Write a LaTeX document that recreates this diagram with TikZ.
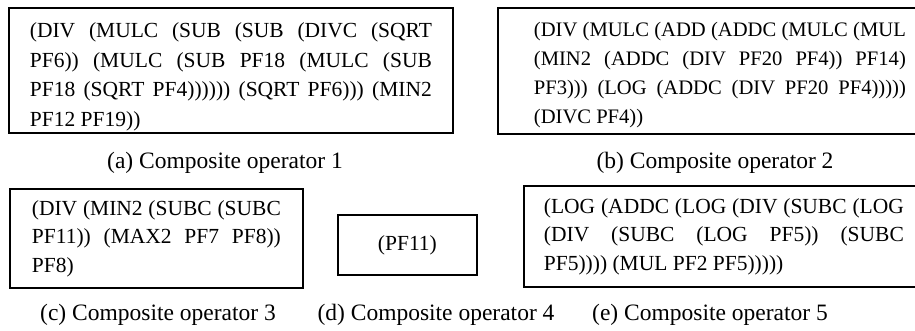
\documentclass[tikz,border=0pt]{standalone}
\usepackage{fontspec}
\setmainfont{Liberation Serif}
\usetikzlibrary{positioning}

\begin{document}
\begin{tikzpicture}[x=1pt, y=-1pt,
  opbox/.style={draw, line width=1.8pt, anchor=north west, align=justify,
    inner ysep=0pt, font=\fontsize{21.5}{28.5}\selectfont,
    execute at begin node=\setlength{\parindent}{0pt}},
  opcap/.style={font=\fontsize{23.5}{28}\selectfont}]
\useasboundingbox (0,0) rectangle (915,331);
%
\node[opbox, text width=402pt, inner xsep=21pt, minimum height=125pt,
  font=\fontsize{21.5}{29.5}\selectfont] (op1) at (8,7)
  {\rule{0pt}{28pt}(DIV (MULC (SUB (SUB (DIVC (SQRT\linebreak
   PF6)) (MULC (SUB PF18 (MULC (SUB\linebreak
   PF18 (SQRT PF4)))))) (SQRT PF6))) (MIN2\linebreak
   PF12 PF19))};
\node[opbox, text width=372pt, inner xsep=36pt, minimum height=126pt,
  font=\fontsize{20.6}{29}\selectfont] (op2) at (497,7)
  {\rule{0pt}{22pt}(DIV (MULC (ADD (ADDC (MULC (MUL\linebreak
   (MIN2 (ADDC (DIV PF20 PF4)) PF14)\linebreak
   PF3))) (LOG (ADDC (DIV PF20 PF4)))))\linebreak
   (DIVC PF4))};
\node[opbox, text width=249pt, inner xsep=22pt, minimum height=99pt] (op3) at (9,188)
  {(DIV (MIN2 (SUBC (SUBC\linebreak
   PF11)) (MAX2 PF7 PF8))\linebreak
   PF8)};
\node[opbox, align=center, minimum width=139pt, minimum height=60pt] (op4) at (337,214)
  {(PF11)};
\node[opbox, text width=360pt, inner xsep=20pt, minimum height=101pt] (op5) at (523,185)
  {(LOG (ADDC (LOG (DIV (SUBC (LOG\linebreak
   (DIV (SUBC (LOG PF5)) (SUBC\linebreak
   PF5)))) (MUL PF2 PF5)))))};
%
\node[opcap] (cap1) at (225,163) {(a) Composite operator 1};
\node[opcap] (cap2) at (715,163) {(b) Composite operator 2};
\node[opcap] (cap3) at (158,315) {(c) Composite operator 3};
\node[opcap] (cap4) at (436,315) {(d) Composite operator 4};
\node[opcap] (cap5) at (710,315) {(e) Composite operator 5};
\end{tikzpicture}
\end{document}
